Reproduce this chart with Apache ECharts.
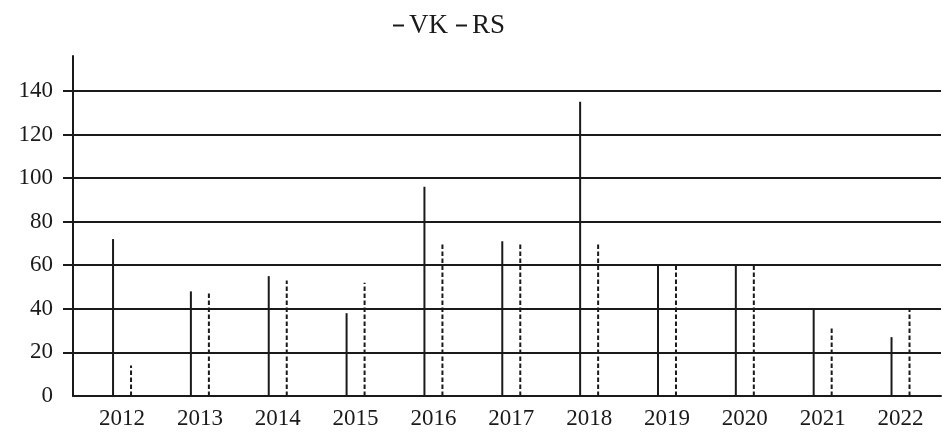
<!DOCTYPE html>
<html>
<head>
<meta charset="utf-8">
<script src="https://cdn.jsdelivr.net/npm/echarts@6/dist/echarts.min.js"></script>
<style>
  html, body { margin: 0; padding: 0; background: #fff; }
  #chart { width: 944px; height: 432px; }
</style>
</head>
<body>
<div id="chart"></div>
<script>
// Yearly counts for the two series
const years = [2012, 2013, 2014, 2015, 2016, 2017, 2018, 2019, 2020, 2021, 2022];
const vk = [72, 48, 55, 38, 96, 71, 135, 60, 60, 40, 27];
const rs = [14, 48, 53, 52, 70, 70, 70, 60, 60, 31, 40];
const yTickValues = [0, 20, 40, 60, 80, 100, 120, 140];
const yGridValues = [20, 40, 60, 80, 100, 120, 140];

const INK = '#1a1a1a';
const SERIF = '"Liberation Serif", "Times New Roman", serif';

// Each value is a thin vertical stroke from the baseline, nudged left (VK) or right (RS)
function stickRenderer(shift, dashed) {
  return function (params, api) {
    const x = api.value(0);
    const base = api.coord([x, 0]);
    const top = api.coord([x, api.value(1)]);
    return {
      type: 'line',
      shape: { x1: base[0] + shift, y1: base[1], x2: top[0] + shift, y2: top[1] },
      style: {
        stroke: INK,
        lineWidth: 2,
        lineDash: dashed ? [4.5, 2.5] : null
      }
    };
  };
}

const chart = echarts.init(document.getElementById('chart'), null, { renderer: 'canvas' });

chart.setOption({
  animation: false,
  backgroundColor: '#fff',
  legend: {
    top: 7,
    left: 388,
    icon: 'rect',
    itemWidth: 11,
    itemHeight: 2,
    itemGap: 8,
    data: ['VK', 'RS'],
    textStyle: { fontFamily: SERIF, fontSize: 27, color: INK }
  },
  grid: { left: 73, right: 3, top: 56, bottom: 36 },
  xAxis: {
    type: 'value',
    min: 2011.37,
    max: 2022.52,
    axisLine: { show: true, lineStyle: { color: INK, width: 2 } },
    axisTick: { show: false },
    splitLine: { show: false },
    axisLabel: {
      customValues: years,
      formatter: v => String(v),
      margin: 11,
      fontFamily: SERIF,
      fontSize: 23,
      color: INK
    }
  },
  yAxis: {
    type: 'value',
    min: 0,
    max: 156,
    axisLine: { show: true, lineStyle: { color: INK, width: 2 } },
    axisTick: {
      show: true,
      customValues: yGridValues,
      length: 10,
      lineStyle: { color: INK, width: 2 }
    },
    splitLine: { show: true, lineStyle: { color: INK, width: 2 } },
    axisLabel: {
      customValues: yTickValues,
      margin: 20,
      fontFamily: SERIF,
      fontSize: 23,
      color: INK
    }
  },
  series: [
    {
      name: 'VK',
      type: 'custom',
      itemStyle: { color: INK },
      renderItem: stickRenderer(-9, false),
      data: years.map((y, i) => [y, vk[i]])
    },
    {
      name: 'RS',
      type: 'custom',
      itemStyle: { color: INK },
      renderItem: stickRenderer(9, true),
      data: years.map((y, i) => [y, rs[i]])
    }
  ]
});
</script>
</body>
</html>
